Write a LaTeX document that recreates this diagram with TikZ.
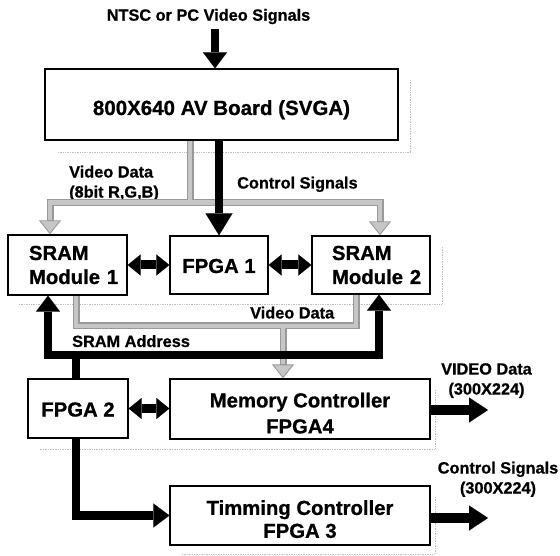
\documentclass[tikz,border=0pt]{standalone}
\usepackage{fontspec}
\setmainfont{Liberation Sans}[BoldFeatures={FakeBold=0.8}]
\usetikzlibrary{arrows.meta}
\begin{document}
\begin{tikzpicture}[x=1pt,y=-1pt,
  box/.style={draw, line width=1.3pt, inner sep=0pt, fill=white, font=\fontsize{20.3}{24}\selectfont\bfseries},
  bigarrow/.style={line width=8.5pt, line join=miter, -{Triangle[width=24pt,length=16pt,line width=0.01pt]}},
  dblarrow/.style={line width=9pt, {Triangle[width=21pt,length=13pt,line width=0.01pt]}-{Triangle[width=21pt,length=13pt,line width=0.01pt]}},
  grayout/.style={line width=7pt, draw=gray!80, line join=miter},
  grayouttip/.style={grayout, -{Triangle[width=22pt,length=14pt,line width=0.9pt,fill=gray!45]}},
  grayin/.style={line width=4.4pt, draw=gray!45, line join=miter},
  grayintip/.style={grayin, shorten >=14pt},
  shadowline/.style={densely dotted, draw=gray!50, line width=0.7pt},
  lbl/.style={font=\fontsize{16.3}{20}\selectfont\bfseries, inner sep=0pt},
]
\useasboundingbox (0,0) rectangle (560,556);

% faint drop shadows
\draw[shadowline] (410,80) -- (410,152) -- (57,152);
\draw[shadowline] (442,247) -- (442,304) -- (18,304);
\draw[shadowline] (435,390) -- (435,449) -- (40,449);
\draw[shadowline] (435,497) -- (435,554) -- (182,554);

% boxes
\node[box, minimum width=353pt, minimum height=71pt, text height=21pt, text depth=0pt,
      font=\fontsize{20.5}{24}\selectfont\bfseries] (av) at (221.5,104.5) {800X640 AV Board (SVGA)};
\node[box, minimum height=60pt, inner xsep=21pt, text width=77pt, align=left] (sram1) at (67.5,265) {SRAM\\Module~1};
\node[box, minimum width=98pt, minimum height=58pt, text height=16pt, text depth=0pt] (fpga1) at (219,265) {FPGA 1};
\node[box, minimum height=58pt, inner xsep=20pt, text width=78pt, align=left] (sram2) at (371,265) {SRAM\\Module~2};
\node[box, minimum width=100pt, minimum height=59pt, text height=16pt, text depth=0pt] (fpga2) at (78,408.5) {FPGA 2};
\node[box, minimum width=260pt, minimum height=60pt, align=center,
      font=\fontsize{20.3}{26}\selectfont\bfseries] (memctrl) at (300,409) {\rule{0pt}{23pt}Memory Controller\\FPGA4};
\node[box, minimum width=260pt, minimum height=59pt, align=center,
      font=\fontsize{20.3}{23}\selectfont\bfseries] (timing) at (300,515.5) {\rule{0pt}{22pt}Timming Controller\\FPGA 3};

% labels
\node[lbl, anchor=base] (ntsc) at (208.5,20.7) {NTSC or PC Video Signals};
\node[lbl, anchor=north west, align=left] (vdlbl) at (69,165.5) {Video Data\\(8bit R,G,B)};
\node[lbl, anchor=base west] (cslbl) at (237,188.5) {Control Signals};
\node[lbl, anchor=base west] (vd2lbl) at (250,318.5) {Video Data};
\node[lbl, anchor=base west] (salbl) at (72,347) {SRAM Address};
\node[lbl, anchor=north, align=center] (voutlbl) at (486.5,363) {VIDEO Data\\(300X224)};
\node[lbl, anchor=north, align=center] (coutlbl) at (498,461.5) {Control Signals\\(300X224)};

% coordinates
\coordinate (inpt) at (215,29);
\coordinate (tg) at (190,202.5);
\coordinate (tgL) at (50,202.5);
\coordinate (tgR) at (380,202.5);
\coordinate (gL) at (76,326);
\coordinate (gR) at (356,326);
\coordinate (gM) at (283,326);
\coordinate (aL) at (48,355);
\coordinate (aR) at (379,355);
\coordinate (vout) at (488,410);
\coordinate (cout) at (488,518);

% gray video-data buses (outline first, then light core)
\draw[grayout] (tg |- av.south) -- (tg);
\draw[grayouttip] (tg) -- (tgL) -- (tgL |- sram1.north);
\draw[grayouttip] (tg) -- (tgR) -- (tgR |- sram2.north);
\draw[grayout] (gL |- sram1.south) -- (gL) -- (gR) -- (gR |- sram2.south);
\draw[grayouttip] (gM) -- (gM |- memctrl.north);
\draw[grayin] (tg |- av.south) -- (tg);
\draw[grayintip] (tg) -- (tgL) -- (tgL |- sram1.north);
\draw[grayintip] (tg) -- (tgR) -- (tgR |- sram2.north);
\draw[grayin] (gL |- sram1.south) -- (gL) -- (gR) -- (gR |- sram2.south);
\draw[grayintip] (gM) -- (gM |- memctrl.north);

% black signal arrows
\draw[bigarrow] (inpt) -- (inpt |- av.north);
\draw[line width=8.5pt, -{Triangle[width=27pt,length=22pt,line width=0.01pt]}] (av.south -| fpga1.north) -- (fpga1.north);
\draw[dblarrow] (sram1.east) -- (fpga1.west);
\draw[dblarrow] (fpga1.east) -- (sram2.west);
\draw[dblarrow] (fpga2.east) -- (fpga2.east -| memctrl.west);
\draw[bigarrow] ([xshift=-2pt]fpga2.north) -- ([xshift=-2pt]fpga2.north |- aL) -- (aL) -- (aL |- sram1.south);
\draw[bigarrow] ([xshift=-2pt]fpga2.north |- aR) -- (aR) -- (aR |- sram2.south);
\draw[bigarrow] ([xshift=-2pt]fpga2.south) |- (timing.west);
\draw[line width=10pt, -{Triangle[width=25pt,length=19pt,line width=0.01pt]}] (memctrl.east |- vout) -- (vout);
\draw[line width=10pt, -{Triangle[width=25pt,length=19pt,line width=0.01pt]}] (timing.east |- cout) -- (cout);
\end{tikzpicture}
\end{document}
